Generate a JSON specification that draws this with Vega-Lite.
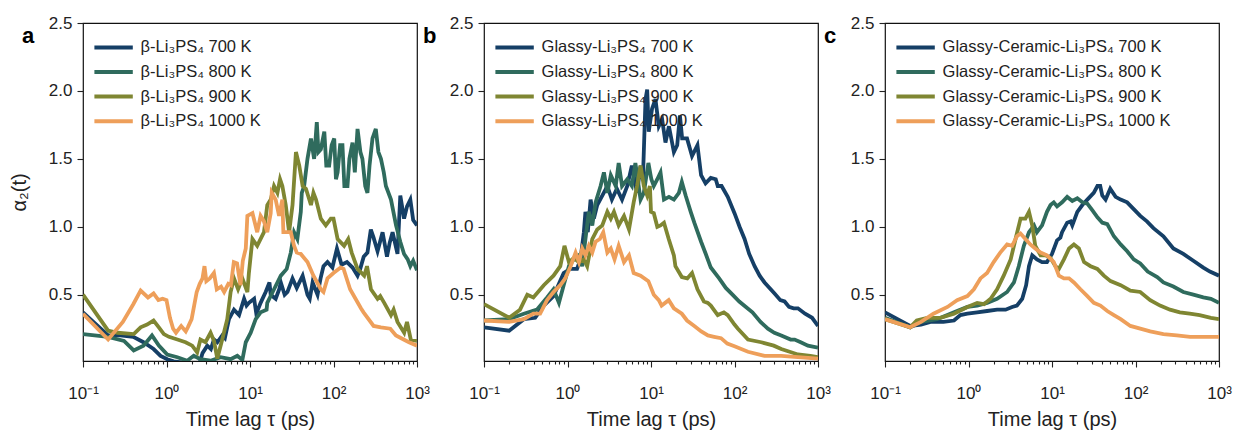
{
  "$schema": "https://vega.github.io/schema/vega-lite/v6.json",
  "padding": {"left": 8, "top": 13, "right": 4, "bottom": 2},
  "background": "white",
  "config": {
    "font": "Liberation Sans",
    "view": {"stroke": "#111", "strokeWidth": 1.2},
    "axis": {"labelColor": "#222", "titleColor": "#222", "tickColor": "#222", "domain": false, "grid": false, "labelFontSize": 17, "titleFontSize": 20, "titleFontWeight": "normal", "tickWidth": 1.1},
    "legend": {"orient": "none", "padding": 0, "symbolType": "M-1.6,0H1.6", "symbolStrokeWidth": 4, "symbolSize": 576, "labelFontSize": 16.5, "labelColor": "#222", "labelOffset": 13, "labelLimit": 500, "rowPadding": 1.6, "title": null},
    "title": {"anchor": "start", "frame": "group", "fontSize": 22, "fontWeight": "bold", "color": "#000", "offset": 0, "baseline": "alphabetic", "dx": -61, "dy": 38}
  },
  "datasets": {
    "a": [
      {"T":"700 K","t":0.1,"v":0.37},{"T":"700 K","t":0.2,"v":0.2},{"T":"700 K","t":0.28,"v":0.2},{"T":"700 K","t":0.4,"v":0.19},{"T":"700 K","t":0.53,"v":0.15},{"T":"700 K","t":0.7,"v":0.1},{"T":"700 K","t":0.85,"v":0.05},{"T":"700 K","t":1.02,"v":0.025},{"T":"700 K","t":1.22,"v":0.01},{"T":"700 K","t":1.6,"v":0.0},{"T":"700 K","t":2.2,"v":-0.01},{"T":"700 K","t":2.5,"v":0.0},{"T":"700 K","t":2.7,"v":0.07},{"T":"700 K","t":3.08,"v":0.125},{"T":"700 K","t":3.4,"v":0.1},{"T":"700 K","t":3.7,"v":0.17},{"T":"700 K","t":4.06,"v":0.15},{"T":"700 K","t":4.65,"v":0.2},{"T":"700 K","t":5.0,"v":0.18},{"T":"700 K","t":5.6,"v":0.32},{"T":"700 K","t":6.43,"v":0.39},{"T":"700 K","t":7.4,"v":0.35},{"T":"700 K","t":8.5,"v":0.47},{"T":"700 K","t":9.1,"v":0.42},{"T":"700 K","t":9.7,"v":0.44},{"T":"700 K","t":11.2,"v":0.47},{"T":"700 K","t":11.9,"v":0.36},{"T":"700 K","t":13.4,"v":0.44},{"T":"700 K","t":15.4,"v":0.52},{"T":"700 K","t":17.1,"v":0.59},{"T":"700 K","t":17.7,"v":0.5},{"T":"700 K","t":20.3,"v":0.47},{"T":"700 K","t":22.4,"v":0.54},{"T":"700 K","t":23.4,"v":0.59},{"T":"700 K","t":26,"v":0.5},{"T":"700 K","t":28.1,"v":0.52},{"T":"700 K","t":32.3,"v":0.62},{"T":"700 K","t":36.3,"v":0.55},{"T":"700 K","t":42.7,"v":0.64},{"T":"700 K","t":48.8,"v":0.5},{"T":"700 K","t":52,"v":0.47},{"T":"700 K","t":56.2,"v":0.59},{"T":"700 K","t":64.4,"v":0.5},{"T":"700 K","t":70,"v":0.62},{"T":"700 K","t":75.9,"v":0.71},{"T":"700 K","t":84.7,"v":0.74},{"T":"700 K","t":97,"v":0.7},{"T":"700 K","t":110,"v":0.84},{"T":"700 K","t":125,"v":0.72},{"T":"700 K","t":145,"v":0.74},{"T":"700 K","t":169,"v":0.7},{"T":"700 K","t":194,"v":0.64},{"T":"700 K","t":209,"v":0.69},{"T":"700 K","t":230,"v":0.78},{"T":"700 K","t":255,"v":0.81},{"T":"700 K","t":280,"v":0.98},{"T":"700 K","t":302,"v":0.92},{"T":"700 K","t":337,"v":0.82},{"T":"700 K","t":387,"v":0.96},{"T":"700 K","t":437,"v":0.78},{"T":"700 K","t":470,"v":0.88},{"T":"700 K","t":510,"v":0.96},{"T":"700 K","t":584,"v":0.8},{"T":"700 K","t":631,"v":1.23},{"T":"700 K","t":700,"v":1.06},{"T":"700 K","t":760,"v":1.15},{"T":"700 K","t":832,"v":1.2},{"T":"700 K","t":900,"v":1.05},{"T":"700 K","t":1000,"v":1.01},
      {"T":"800 K","t":0.1,"v":0.21},{"T":"800 K","t":0.2,"v":0.19},{"T":"800 K","t":0.31,"v":0.16},{"T":"800 K","t":0.405,"v":0.09},{"T":"800 K","t":0.53,"v":0.125},{"T":"800 K","t":0.67,"v":0.2},{"T":"800 K","t":0.81,"v":0.125},{"T":"800 K","t":1.02,"v":0.06},{"T":"800 K","t":1.35,"v":0.04},{"T":"800 K","t":1.77,"v":0.014},{"T":"800 K","t":2.12,"v":0.05},{"T":"800 K","t":2.55,"v":0.025},{"T":"800 K","t":3.37,"v":0.014},{"T":"800 K","t":4.45,"v":0.04},{"T":"800 K","t":5.86,"v":0.025},{"T":"800 K","t":7.05,"v":0.05},{"T":"800 K","t":8.1,"v":0.02},{"T":"800 K","t":8.9,"v":0.15},{"T":"800 K","t":10.2,"v":0.22},{"T":"800 K","t":11.7,"v":0.32},{"T":"800 K","t":13.4,"v":0.37},{"T":"800 K","t":15.8,"v":0.39},{"T":"800 K","t":16.1,"v":0.44},{"T":"800 K","t":19.4,"v":0.54},{"T":"800 K","t":23.4,"v":0.64},{"T":"800 K","t":27.5,"v":0.69},{"T":"800 K","t":30.8,"v":0.81},{"T":"800 K","t":33.7,"v":0.96},{"T":"800 K","t":36.9,"v":0.91},{"T":"800 K","t":40.6,"v":1.11},{"T":"800 K","t":41.7,"v":1.25},{"T":"800 K","t":44.5,"v":1.3},{"T":"800 K","t":48.8,"v":1.5},{"T":"800 K","t":53.7,"v":1.65},{"T":"800 K","t":58.6,"v":1.5},{"T":"800 K","t":63.1,"v":1.77},{"T":"800 K","t":66,"v":1.55},{"T":"800 K","t":70.5,"v":1.57},{"T":"800 K","t":77.6,"v":1.7},{"T":"800 K","t":82,"v":1.45},{"T":"800 K","t":88.7,"v":1.45},{"T":"800 K","t":95,"v":1.6},{"T":"800 K","t":102,"v":1.65},{"T":"800 K","t":107,"v":1.35},{"T":"800 K","t":112,"v":1.4},{"T":"800 K","t":120,"v":1.6},{"T":"800 K","t":128,"v":1.6},{"T":"800 K","t":135,"v":1.3},{"T":"800 K","t":147,"v":1.3},{"T":"800 K","t":155,"v":1.5},{"T":"800 K","t":169,"v":1.62},{"T":"800 K","t":180,"v":1.4},{"T":"800 K","t":194,"v":1.72},{"T":"800 K","t":210,"v":1.55},{"T":"800 K","t":222,"v":1.5},{"T":"800 K","t":240,"v":1.3},{"T":"800 K","t":255,"v":1.25},{"T":"800 K","t":270,"v":1.45},{"T":"800 K","t":293,"v":1.65},{"T":"800 K","t":321,"v":1.72},{"T":"800 K","t":345,"v":1.55},{"T":"800 K","t":370,"v":1.5},{"T":"800 K","t":400,"v":1.4},{"T":"800 K","t":424,"v":1.3},{"T":"800 K","t":488,"v":1.2},{"T":"800 K","t":561,"v":1.01},{"T":"800 K","t":631,"v":0.89},{"T":"800 K","t":700,"v":0.8},{"T":"800 K","t":774,"v":0.76},{"T":"800 K","t":832,"v":0.71},{"T":"800 K","t":900,"v":0.75},{"T":"800 K","t":1000,"v":0.68},
      {"T":"900 K","t":0.1,"v":0.5},{"T":"900 K","t":0.2,"v":0.235},{"T":"900 K","t":0.26,"v":0.22},{"T":"900 K","t":0.405,"v":0.21},{"T":"900 K","t":0.49,"v":0.26},{"T":"900 K","t":0.585,"v":0.28},{"T":"900 K","t":0.7,"v":0.31},{"T":"900 K","t":0.81,"v":0.26},{"T":"900 K","t":0.93,"v":0.21},{"T":"900 K","t":1.07,"v":0.19},{"T":"900 K","t":1.35,"v":0.17},{"T":"900 K","t":1.69,"v":0.15},{"T":"900 K","t":2.03,"v":0.125},{"T":"900 K","t":2.33,"v":0.075},{"T":"900 K","t":2.55,"v":0.17},{"T":"900 K","t":2.93,"v":0.15},{"T":"900 K","t":3.37,"v":0.22},{"T":"900 K","t":3.7,"v":0.16},{"T":"900 K","t":4.06,"v":0.03},{"T":"900 K","t":4.65,"v":0.17},{"T":"900 K","t":5.34,"v":0.32},{"T":"900 K","t":5.86,"v":0.52},{"T":"900 K","t":6.43,"v":0.62},{"T":"900 K","t":7.2,"v":0.54},{"T":"900 K","t":8.1,"v":0.62},{"T":"900 K","t":9.3,"v":0.52},{"T":"900 K","t":9.7,"v":0.66},{"T":"900 K","t":10.7,"v":0.91},{"T":"900 K","t":12.2,"v":0.86},{"T":"900 K","t":14.7,"v":0.96},{"T":"900 K","t":16.1,"v":1.16},{"T":"900 K","t":17.7,"v":1.2},{"T":"900 K","t":19.4,"v":1.3},{"T":"900 K","t":21.3,"v":1.25},{"T":"900 K","t":22.9,"v":1.35},{"T":"900 K","t":24.4,"v":1.3},{"T":"900 K","t":26.8,"v":1.16},{"T":"900 K","t":29.4,"v":0.96},{"T":"900 K","t":32.3,"v":1.16},{"T":"900 K","t":35.5,"v":1.55},{"T":"900 K","t":38.9,"v":1.45},{"T":"900 K","t":42.7,"v":1.3},{"T":"900 K","t":46.8,"v":1.28},{"T":"900 K","t":53.7,"v":1.16},{"T":"900 K","t":57.5,"v":1.25},{"T":"900 K","t":61.7,"v":1.2},{"T":"900 K","t":70.5,"v":1.06},{"T":"900 K","t":80.9,"v":1.01},{"T":"900 K","t":92.9,"v":1.06},{"T":"900 K","t":100,"v":1.06},{"T":"900 K","t":112,"v":0.91},{"T":"900 K","t":134,"v":0.86},{"T":"900 K","t":150,"v":0.91},{"T":"900 K","t":165,"v":0.81},{"T":"900 K","t":194,"v":0.69},{"T":"900 K","t":233,"v":0.64},{"T":"900 K","t":252,"v":0.71},{"T":"900 K","t":281,"v":0.54},{"T":"900 K","t":337,"v":0.47},{"T":"900 K","t":363,"v":0.49},{"T":"900 K","t":405,"v":0.44},{"T":"900 K","t":488,"v":0.35},{"T":"900 K","t":525,"v":0.39},{"T":"900 K","t":584,"v":0.3},{"T":"900 K","t":702,"v":0.22},{"T":"900 K","t":759,"v":0.3},{"T":"900 K","t":843,"v":0.17},{"T":"900 K","t":1000,"v":0.16},
      {"T":"1000 K","t":0.1,"v":0.36},{"T":"1000 K","t":0.2,"v":0.17},{"T":"1000 K","t":0.3,"v":0.3},{"T":"1000 K","t":0.4,"v":0.43},{"T":"1000 K","t":0.49,"v":0.53},{"T":"1000 K","t":0.6,"v":0.48},{"T":"1000 K","t":0.7,"v":0.51},{"T":"1000 K","t":0.8,"v":0.46},{"T":"1000 K","t":0.9,"v":0.47},{"T":"1000 K","t":1.0,"v":0.46},{"T":"1000 K","t":1.1,"v":0.33},{"T":"1000 K","t":1.2,"v":0.25},{"T":"1000 K","t":1.3,"v":0.22},{"T":"1000 K","t":1.5,"v":0.27},{"T":"1000 K","t":1.7,"v":0.23},{"T":"1000 K","t":1.8,"v":0.26},{"T":"1000 K","t":2.0,"v":0.32},{"T":"1000 K","t":2.3,"v":0.52},{"T":"1000 K","t":2.5,"v":0.58},{"T":"1000 K","t":2.7,"v":0.62},{"T":"1000 K","t":2.85,"v":0.71},{"T":"1000 K","t":3.0,"v":0.6},{"T":"1000 K","t":3.3,"v":0.62},{"T":"1000 K","t":3.7,"v":0.66},{"T":"1000 K","t":4.0,"v":0.54},{"T":"1000 K","t":4.5,"v":0.56},{"T":"1000 K","t":4.9,"v":0.52},{"T":"1000 K","t":5.5,"v":0.58},{"T":"1000 K","t":5.9,"v":0.57},{"T":"1000 K","t":6.4,"v":0.74},{"T":"1000 K","t":7.0,"v":0.73},{"T":"1000 K","t":7.7,"v":0.57},{"T":"1000 K","t":8.2,"v":0.75},{"T":"1000 K","t":8.9,"v":0.84},{"T":"1000 K","t":9.3,"v":1.08},{"T":"1000 K","t":10.7,"v":1.1},{"T":"1000 K","t":12.2,"v":0.96},{"T":"1000 K","t":13.4,"v":1.08},{"T":"1000 K","t":14.7,"v":1.04},{"T":"1000 K","t":16.1,"v":0.96},{"T":"1000 K","t":17.7,"v":1.1},{"T":"1000 K","t":18.2,"v":1.25},{"T":"1000 K","t":20.3,"v":1.2},{"T":"1000 K","t":22.3,"v":1.08},{"T":"1000 K","t":24.4,"v":1.2},{"T":"1000 K","t":25.1,"v":0.96},{"T":"1000 K","t":30.8,"v":0.96},{"T":"1000 K","t":33.7,"v":0.86},{"T":"1000 K","t":36.3,"v":0.81},{"T":"1000 K","t":40.6,"v":0.8},{"T":"1000 K","t":48.8,"v":0.74},{"T":"1000 K","t":57.5,"v":0.64},{"T":"1000 K","t":70.5,"v":0.54},{"T":"1000 K","t":75.9,"v":0.52},{"T":"1000 K","t":84.7,"v":0.62},{"T":"1000 K","t":100,"v":0.66},{"T":"1000 K","t":122,"v":0.7},{"T":"1000 K","t":132,"v":0.69},{"T":"1000 K","t":158,"v":0.54},{"T":"1000 K","t":213,"v":0.4},{"T":"1000 K","t":229,"v":0.37},{"T":"1000 K","t":302,"v":0.27},{"T":"1000 K","t":370,"v":0.26},{"T":"1000 K","t":479,"v":0.25},{"T":"1000 K","t":560,"v":0.2},{"T":"1000 K","t":692,"v":0.17},{"T":"1000 K","t":800,"v":0.15},{"T":"1000 K","t":1000,"v":0.125}
    ],
    "b": [
      {"T":"700 K","t":0.1,"v":0.26},{"T":"700 K","t":0.2,"v":0.235},{"T":"700 K","t":0.3,"v":0.32},{"T":"700 K","t":0.41,"v":0.33},{"T":"700 K","t":0.52,"v":0.42},{"T":"700 K","t":0.68,"v":0.49},{"T":"700 K","t":0.9,"v":0.66},{"T":"700 K","t":1.08,"v":0.69},{"T":"700 K","t":1.3,"v":0.69},{"T":"700 K","t":1.43,"v":0.76},{"T":"700 K","t":1.57,"v":0.96},{"T":"700 K","t":1.64,"v":1.11},{"T":"700 K","t":1.75,"v":0.96},{"T":"700 K","t":1.89,"v":1.2},{"T":"700 K","t":2.07,"v":1.06},{"T":"700 K","t":2.27,"v":1.16},{"T":"700 K","t":2.61,"v":1.23},{"T":"700 K","t":3.0,"v":1.3},{"T":"700 K","t":3.4,"v":1.2},{"T":"700 K","t":3.9,"v":1.28},{"T":"700 K","t":4.5,"v":1.2},{"T":"700 K","t":5.2,"v":1.3},{"T":"700 K","t":5.9,"v":1.45},{"T":"700 K","t":6.8,"v":1.25},{"T":"700 K","t":7.5,"v":1.45},{"T":"700 K","t":8.0,"v":1.35},{"T":"700 K","t":8.6,"v":1.94},{"T":"700 K","t":9.0,"v":2.01},{"T":"700 K","t":9.4,"v":1.7},{"T":"700 K","t":10.3,"v":1.87},{"T":"700 K","t":11.3,"v":1.94},{"T":"700 K","t":12.4,"v":1.74},{"T":"700 K","t":13.6,"v":1.79},{"T":"700 K","t":14.9,"v":1.62},{"T":"700 K","t":16.4,"v":1.74},{"T":"700 K","t":18.8,"v":1.55},{"T":"700 K","t":20.6,"v":1.6},{"T":"700 K","t":22.2,"v":1.82},{"T":"700 K","t":23.6,"v":1.65},{"T":"700 K","t":27,"v":1.65},{"T":"700 K","t":31,"v":1.52},{"T":"700 K","t":36,"v":1.6},{"T":"700 K","t":39.8,"v":1.38},{"T":"700 K","t":45,"v":1.32},{"T":"700 K","t":52,"v":1.36},{"T":"700 K","t":59.6,"v":1.35},{"T":"700 K","t":63,"v":1.3},{"T":"700 K","t":70,"v":1.3},{"T":"700 K","t":83,"v":1.22},{"T":"700 K","t":100,"v":1.1},{"T":"700 K","t":115,"v":1.0},{"T":"700 K","t":132,"v":0.91},{"T":"700 K","t":150,"v":0.8},{"T":"700 K","t":174,"v":0.71},{"T":"700 K","t":200,"v":0.64},{"T":"700 K","t":229,"v":0.59},{"T":"700 K","t":300,"v":0.51},{"T":"700 K","t":354,"v":0.46},{"T":"700 K","t":398,"v":0.45},{"T":"700 K","t":450,"v":0.41},{"T":"700 K","t":510,"v":0.4},{"T":"700 K","t":575,"v":0.4},{"T":"700 K","t":700,"v":0.36},{"T":"700 K","t":850,"v":0.33},{"T":"700 K","t":1000,"v":0.27},
      {"T":"800 K","t":0.1,"v":0.31},{"T":"800 K","t":0.2,"v":0.32},{"T":"800 K","t":0.3,"v":0.36},{"T":"800 K","t":0.43,"v":0.39},{"T":"800 K","t":0.57,"v":0.48},{"T":"800 K","t":0.68,"v":0.54},{"T":"800 K","t":0.79,"v":0.44},{"T":"800 K","t":0.9,"v":0.57},{"T":"800 K","t":1.04,"v":0.71},{"T":"800 K","t":1.19,"v":0.76},{"T":"800 K","t":1.37,"v":0.79},{"T":"800 K","t":1.5,"v":0.71},{"T":"800 K","t":1.64,"v":0.91},{"T":"800 K","t":1.8,"v":1.11},{"T":"800 K","t":1.98,"v":1.01},{"T":"800 K","t":2.17,"v":1.18},{"T":"800 K","t":2.49,"v":1.3},{"T":"800 K","t":2.73,"v":1.4},{"T":"800 K","t":3.0,"v":1.25},{"T":"800 K","t":3.3,"v":1.38},{"T":"800 K","t":3.78,"v":1.3},{"T":"800 K","t":4.1,"v":1.47},{"T":"800 K","t":4.5,"v":1.3},{"T":"800 K","t":5.2,"v":1.35},{"T":"800 K","t":5.9,"v":1.3},{"T":"800 K","t":6.5,"v":1.47},{"T":"800 K","t":7.5,"v":1.2},{"T":"800 K","t":8.2,"v":1.25},{"T":"800 K","t":9.3,"v":1.47},{"T":"800 K","t":10.1,"v":1.35},{"T":"800 K","t":10.8,"v":1.3},{"T":"800 K","t":11.9,"v":1.35},{"T":"800 K","t":13.0,"v":1.4},{"T":"800 K","t":14.3,"v":1.2},{"T":"800 K","t":16.4,"v":1.22},{"T":"800 K","t":18.8,"v":1.2},{"T":"800 K","t":21.6,"v":1.25},{"T":"800 K","t":23.4,"v":1.33},{"T":"800 K","t":26,"v":1.23},{"T":"800 K","t":29.9,"v":1.11},{"T":"800 K","t":33,"v":1.03},{"T":"800 K","t":39.8,"v":0.89},{"T":"800 K","t":45.3,"v":0.8},{"T":"800 K","t":52,"v":0.7},{"T":"800 K","t":65.5,"v":0.62},{"T":"800 K","t":78.7,"v":0.55},{"T":"800 K","t":94.6,"v":0.5},{"T":"800 K","t":114,"v":0.45},{"T":"800 K","t":137,"v":0.41},{"T":"800 K","t":164,"v":0.37},{"T":"800 K","t":205,"v":0.3},{"T":"800 K","t":251,"v":0.25},{"T":"800 K","t":300,"v":0.22},{"T":"800 K","t":363,"v":0.2},{"T":"800 K","t":470,"v":0.17},{"T":"800 K","t":525,"v":0.17},{"T":"800 K","t":621,"v":0.15},{"T":"800 K","t":758,"v":0.125},{"T":"800 K","t":1000,"v":0.11},
      {"T":"900 K","t":0.1,"v":0.43},{"T":"900 K","t":0.2,"v":0.33},{"T":"900 K","t":0.27,"v":0.39},{"T":"900 K","t":0.33,"v":0.5},{"T":"900 K","t":0.39,"v":0.48},{"T":"900 K","t":0.52,"v":0.57},{"T":"900 K","t":0.68,"v":0.64},{"T":"900 K","t":0.82,"v":0.71},{"T":"900 K","t":0.92,"v":0.86},{"T":"900 K","t":1.04,"v":0.74},{"T":"900 K","t":1.19,"v":0.77},{"T":"900 K","t":1.37,"v":0.74},{"T":"900 K","t":1.57,"v":0.76},{"T":"900 K","t":1.72,"v":0.71},{"T":"900 K","t":1.98,"v":0.91},{"T":"900 K","t":2.27,"v":0.98},{"T":"900 K","t":2.61,"v":1.01},{"T":"900 K","t":3.0,"v":1.11},{"T":"900 K","t":3.3,"v":1.06},{"T":"900 K","t":3.6,"v":1.11},{"T":"900 K","t":4.1,"v":1.01},{"T":"900 K","t":4.75,"v":1.08},{"T":"900 K","t":5.45,"v":0.98},{"T":"900 K","t":6.2,"v":1.18},{"T":"900 K","t":6.8,"v":1.3},{"T":"900 K","t":7.5,"v":1.45},{"T":"900 K","t":8.2,"v":1.3},{"T":"900 K","t":9.0,"v":1.23},{"T":"900 K","t":9.7,"v":1.3},{"T":"900 K","t":10.0,"v":1.11},{"T":"900 K","t":10.8,"v":1.1},{"T":"900 K","t":11.9,"v":1.0},{"T":"900 K","t":13,"v":1.01},{"T":"900 K","t":14.3,"v":1.03},{"T":"900 K","t":16.3,"v":0.91},{"T":"900 K","t":18.8,"v":0.79},{"T":"900 K","t":19.6,"v":0.71},{"T":"900 K","t":23.4,"v":0.63},{"T":"900 K","t":27.2,"v":0.62},{"T":"900 K","t":31,"v":0.66},{"T":"900 K","t":36,"v":0.54},{"T":"900 K","t":43,"v":0.45},{"T":"900 K","t":47.9,"v":0.44},{"T":"900 K","t":52,"v":0.42},{"T":"900 K","t":63,"v":0.35},{"T":"900 K","t":74.6,"v":0.37},{"T":"900 K","t":83,"v":0.35},{"T":"900 K","t":100,"v":0.28},{"T":"900 K","t":110,"v":0.25},{"T":"900 K","t":145,"v":0.17},{"T":"900 K","t":209,"v":0.15},{"T":"900 K","t":295,"v":0.125},{"T":"900 K","t":363,"v":0.1},{"T":"900 K","t":575,"v":0.06},{"T":"900 K","t":811,"v":0.05},{"T":"900 K","t":1000,"v":0.04},
      {"T":"1000 K","t":0.1,"v":0.31},{"T":"1000 K","t":0.2,"v":0.3},{"T":"1000 K","t":0.3,"v":0.32},{"T":"1000 K","t":0.39,"v":0.36},{"T":"1000 K","t":0.47,"v":0.36},{"T":"1000 K","t":0.57,"v":0.46},{"T":"1000 K","t":0.68,"v":0.52},{"T":"1000 K","t":0.82,"v":0.57},{"T":"1000 K","t":0.94,"v":0.62},{"T":"1000 K","t":1.09,"v":0.71},{"T":"1000 K","t":1.25,"v":0.81},{"T":"1000 K","t":1.37,"v":0.74},{"T":"1000 K","t":1.5,"v":0.84},{"T":"1000 K","t":1.64,"v":0.79},{"T":"1000 K","t":1.8,"v":0.86},{"T":"1000 K","t":1.98,"v":0.81},{"T":"1000 K","t":2.17,"v":0.89},{"T":"1000 K","t":2.44,"v":0.91},{"T":"1000 K","t":2.68,"v":0.96},{"T":"1000 K","t":3.0,"v":0.81},{"T":"1000 K","t":3.3,"v":0.84},{"T":"1000 K","t":3.66,"v":0.76},{"T":"1000 K","t":4.1,"v":0.86},{"T":"1000 K","t":4.75,"v":0.74},{"T":"1000 K","t":5.45,"v":0.79},{"T":"1000 K","t":6.2,"v":0.66},{"T":"1000 K","t":7.5,"v":0.64},{"T":"1000 K","t":9.3,"v":0.6},{"T":"1000 K","t":10.8,"v":0.5},{"T":"1000 K","t":12.4,"v":0.46},{"T":"1000 K","t":13.4,"v":0.42},{"T":"1000 K","t":16.3,"v":0.46},{"T":"1000 K","t":18.8,"v":0.4},{"T":"1000 K","t":23.4,"v":0.36},{"T":"1000 K","t":27,"v":0.31},{"T":"1000 K","t":33,"v":0.27},{"T":"1000 K","t":40,"v":0.23},{"T":"1000 K","t":48,"v":0.2},{"T":"1000 K","t":57,"v":0.19},{"T":"1000 K","t":69,"v":0.18},{"T":"1000 K","t":82,"v":0.14},{"T":"1000 K","t":100,"v":0.12},{"T":"1000 K","t":145,"v":0.08},{"T":"1000 K","t":229,"v":0.05},{"T":"1000 K","t":363,"v":0.05},{"T":"1000 K","t":575,"v":0.04},{"T":"1000 K","t":1000,"v":0.03}
    ],
    "c": [
      {"T":"700 K","t":0.1,"v":0.37},{"T":"700 K","t":0.2,"v":0.27},{"T":"700 K","t":0.27,"v":0.28},{"T":"700 K","t":0.35,"v":0.3},{"T":"700 K","t":0.5,"v":0.3},{"T":"700 K","t":0.67,"v":0.31},{"T":"700 K","t":0.8,"v":0.35},{"T":"700 K","t":0.97,"v":0.36},{"T":"700 K","t":1.27,"v":0.37},{"T":"700 K","t":1.67,"v":0.38},{"T":"700 K","t":2.2,"v":0.39},{"T":"700 K","t":2.78,"v":0.39},{"T":"700 K","t":3.33,"v":0.41},{"T":"700 K","t":3.8,"v":0.42},{"T":"700 K","t":4.4,"v":0.47},{"T":"700 K","t":4.9,"v":0.57},{"T":"700 K","t":5.3,"v":0.71},{"T":"700 K","t":5.8,"v":0.79},{"T":"700 K","t":6.6,"v":0.76},{"T":"700 K","t":7.6,"v":0.74},{"T":"700 K","t":8.7,"v":0.74},{"T":"700 K","t":10,"v":0.8},{"T":"700 K","t":11.5,"v":0.9},{"T":"700 K","t":12.6,"v":0.92},{"T":"700 K","t":13.2,"v":0.96},{"T":"700 K","t":15.2,"v":1.03},{"T":"700 K","t":16.7,"v":1.04},{"T":"700 K","t":17.5,"v":1.01},{"T":"700 K","t":20.1,"v":1.11},{"T":"700 K","t":23.1,"v":1.16},{"T":"700 K","t":26.5,"v":1.2},{"T":"700 K","t":31.6,"v":1.25},{"T":"700 K","t":35,"v":1.3},{"T":"700 K","t":37.8,"v":1.3},{"T":"700 K","t":40,"v":1.23},{"T":"700 K","t":43.8,"v":1.2},{"T":"700 K","t":49.8,"v":1.28},{"T":"700 K","t":57.8,"v":1.22},{"T":"700 K","t":66.4,"v":1.2},{"T":"700 K","t":79.5,"v":1.18},{"T":"700 K","t":95.2,"v":1.13},{"T":"700 K","t":114,"v":1.08},{"T":"700 K","t":137,"v":1.04},{"T":"700 K","t":164,"v":0.99},{"T":"700 K","t":216,"v":0.93},{"T":"700 K","t":284,"v":0.84},{"T":"700 K","t":374,"v":0.8},{"T":"700 K","t":493,"v":0.75},{"T":"700 K","t":649,"v":0.7},{"T":"700 K","t":778,"v":0.67},{"T":"700 K","t":1000,"v":0.64},
      {"T":"800 K","t":0.1,"v":0.33},{"T":"800 K","t":0.2,"v":0.26},{"T":"800 K","t":0.27,"v":0.3},{"T":"800 K","t":0.42,"v":0.32},{"T":"800 K","t":0.67,"v":0.37},{"T":"800 K","t":0.97,"v":0.41},{"T":"800 K","t":1.27,"v":0.42},{"T":"800 K","t":1.67,"v":0.44},{"T":"800 K","t":2.2,"v":0.47},{"T":"800 K","t":2.9,"v":0.52},{"T":"800 K","t":3.5,"v":0.59},{"T":"800 K","t":4.0,"v":0.71},{"T":"800 K","t":4.6,"v":0.86},{"T":"800 K","t":5.3,"v":0.96},{"T":"800 K","t":6.1,"v":1.01},{"T":"800 K","t":6.6,"v":0.96},{"T":"800 K","t":7.6,"v":1.01},{"T":"800 K","t":8.7,"v":1.11},{"T":"800 K","t":9.6,"v":1.16},{"T":"800 K","t":10.5,"v":1.18},{"T":"800 K","t":11.5,"v":1.15},{"T":"800 K","t":13.2,"v":1.18},{"T":"800 K","t":15.2,"v":1.22},{"T":"800 K","t":17.5,"v":1.19},{"T":"800 K","t":20.1,"v":1.21},{"T":"800 K","t":23.1,"v":1.18},{"T":"800 K","t":26.5,"v":1.17},{"T":"800 K","t":30.5,"v":1.12},{"T":"800 K","t":35,"v":1.07},{"T":"800 K","t":40.1,"v":1.03},{"T":"800 K","t":45.9,"v":1.02},{"T":"800 K","t":55.1,"v":0.93},{"T":"800 K","t":66.4,"v":0.87},{"T":"800 K","t":79.5,"v":0.82},{"T":"800 K","t":95.2,"v":0.76},{"T":"800 K","t":114,"v":0.73},{"T":"800 K","t":140,"v":0.67},{"T":"800 K","t":182,"v":0.63},{"T":"800 K","t":216,"v":0.59},{"T":"800 K","t":284,"v":0.56},{"T":"800 K","t":374,"v":0.52},{"T":"800 K","t":493,"v":0.5},{"T":"800 K","t":649,"v":0.48},{"T":"800 K","t":800,"v":0.47},{"T":"800 K","t":1000,"v":0.44},
      {"T":"900 K","t":0.1,"v":0.32},{"T":"900 K","t":0.2,"v":0.26},{"T":"900 K","t":0.24,"v":0.31},{"T":"900 K","t":0.32,"v":0.33},{"T":"900 K","t":0.46,"v":0.33},{"T":"900 K","t":0.67,"v":0.36},{"T":"900 K","t":0.97,"v":0.41},{"T":"900 K","t":1.27,"v":0.44},{"T":"900 K","t":1.53,"v":0.43},{"T":"900 K","t":1.84,"v":0.47},{"T":"900 K","t":2.2,"v":0.54},{"T":"900 K","t":2.64,"v":0.64},{"T":"900 K","t":3.2,"v":0.76},{"T":"900 K","t":3.66,"v":0.91},{"T":"900 K","t":4.2,"v":1.06},{"T":"900 K","t":4.8,"v":1.06},{"T":"900 K","t":5.3,"v":1.11},{"T":"900 K","t":5.8,"v":1.01},{"T":"900 K","t":6.3,"v":0.86},{"T":"900 K","t":7.3,"v":0.79},{"T":"900 K","t":8.4,"v":0.79},{"T":"900 K","t":9.6,"v":0.77},{"T":"900 K","t":11.0,"v":0.71},{"T":"900 K","t":12.1,"v":0.69},{"T":"900 K","t":13.9,"v":0.76},{"T":"900 K","t":16.0,"v":0.84},{"T":"900 K","t":18.3,"v":0.87},{"T":"900 K","t":21,"v":0.84},{"T":"900 K","t":24.2,"v":0.74},{"T":"900 K","t":29,"v":0.71},{"T":"900 K","t":34.9,"v":0.69},{"T":"900 K","t":41.8,"v":0.64},{"T":"900 K","t":50.3,"v":0.6},{"T":"900 K","t":66.4,"v":0.57},{"T":"900 K","t":86.9,"v":0.53},{"T":"900 K","t":114,"v":0.52},{"T":"900 K","t":150,"v":0.46},{"T":"900 K","t":197,"v":0.42},{"T":"900 K","t":259,"v":0.39},{"T":"900 K","t":340,"v":0.37},{"T":"900 K","t":446,"v":0.36},{"T":"900 K","t":586,"v":0.35},{"T":"900 K","t":800,"v":0.33},{"T":"900 K","t":1000,"v":0.32},
      {"T":"1000 K","t":0.1,"v":0.32},{"T":"1000 K","t":0.2,"v":0.26},{"T":"1000 K","t":0.27,"v":0.3},{"T":"1000 K","t":0.38,"v":0.36},{"T":"1000 K","t":0.56,"v":0.41},{"T":"1000 K","t":0.73,"v":0.46},{"T":"1000 K","t":0.97,"v":0.49},{"T":"1000 K","t":1.16,"v":0.54},{"T":"1000 K","t":1.39,"v":0.62},{"T":"1000 K","t":1.67,"v":0.66},{"T":"1000 K","t":2.0,"v":0.74},{"T":"1000 K","t":2.4,"v":0.81},{"T":"1000 K","t":2.9,"v":0.87},{"T":"1000 K","t":3.33,"v":0.86},{"T":"1000 K","t":3.8,"v":0.93},{"T":"1000 K","t":4.2,"v":0.95},{"T":"1000 K","t":4.8,"v":0.91},{"T":"1000 K","t":5.5,"v":0.87},{"T":"1000 K","t":6.3,"v":0.84},{"T":"1000 K","t":7.3,"v":0.81},{"T":"1000 K","t":8.7,"v":0.79},{"T":"1000 K","t":10.5,"v":0.74},{"T":"1000 K","t":12.1,"v":0.64},{"T":"1000 K","t":13.9,"v":0.62},{"T":"1000 K","t":16.0,"v":0.62},{"T":"1000 K","t":18.3,"v":0.59},{"T":"1000 K","t":21.9,"v":0.54},{"T":"1000 K","t":26.5,"v":0.49},{"T":"1000 K","t":31.7,"v":0.44},{"T":"1000 K","t":38,"v":0.42},{"T":"1000 K","t":45.9,"v":0.38},{"T":"1000 K","t":55.1,"v":0.35},{"T":"1000 K","t":66.4,"v":0.32},{"T":"1000 K","t":86.9,"v":0.27},{"T":"1000 K","t":114,"v":0.25},{"T":"1000 K","t":150,"v":0.23},{"T":"1000 K","t":216,"v":0.21},{"T":"1000 K","t":312,"v":0.2},{"T":"1000 K","t":450,"v":0.19},{"T":"1000 K","t":649,"v":0.19},{"T":"1000 K","t":1000,"v":0.19}
    ]
  },
  "spacing": 67,
  "bounds": "flush",
  "resolve": {"scale": {"color": "independent"}, "legend": {"color": "independent"}},
  "hconcat": [
    {
      "width": 334, "height": 338,
      "title": {"text": "a"},
      "data": {"name": "a"},
      "mark": {"type": "line", "strokeWidth": 3.8, "clip": true},
      "encoding": {
        "x": {"field": "t", "type": "quantitative", "scale": {"type": "log", "domain": [0.1, 1000]},
          "axis": {"title": "Time lag τ (ps)", "values": [0.1,0.2,0.3,0.4,0.5,0.6,0.7,0.8,0.9,1,2,3,4,5,6,7,8,9,10,20,30,40,50,60,70,80,90,100,200,300,400,500,600,700,800,900,1000], "labelExpr": "datum.value == 0.1 ? '10⁻¹' : datum.value == 1 ? '10⁰' : datum.value == 10 ? '10¹' : datum.value == 100 ? '10²' : datum.value == 1000 ? '10³' : ''", "labelOverlap": false, "labelFlush": false, "tickSize": {"condition": {"test": "datum.value == 0.1 || datum.value == 1 || datum.value == 10 || datum.value == 100 || datum.value == 1000", "value": 6}, "value": 3}, "labelPadding": 18, "titlePadding": 8}},
        "y": {"field": "v", "type": "quantitative", "scale": {"domain": [0.012, 2.5], "nice": false, "zero": false},
          "axis": {"title": "α₂(t)", "values": [0.5, 1, 1.5, 2, 2.5], "format": ".1f", "tickSize": 6, "labelPadding": 5, "titlePadding": 19}},
        "color": {"field": "T", "type": "nominal", "sort": ["700 K", "800 K", "900 K", "1000 K"],
          "scale": {"domain": ["700 K", "800 K", "900 K", "1000 K"], "range": ["#153f66", "#2f6b5d", "#7f8632", "#ee9f5a"]},
          "legend": {"labelExpr": "'β-Li₃PS₄ ' + datum.label", "orient": "none", "legendX": 16.6, "legendY": 10.4}}
      }
    },
    {
      "width": 334, "height": 338,
      "title": {"text": "b"},
      "data": {"name": "b"},
      "mark": {"type": "line", "strokeWidth": 3.8, "clip": true},
      "encoding": {
        "x": {"field": "t", "type": "quantitative", "scale": {"type": "log", "domain": [0.1, 1000]},
          "axis": {"title": "Time lag τ (ps)", "values": [0.1,0.2,0.3,0.4,0.5,0.6,0.7,0.8,0.9,1,2,3,4,5,6,7,8,9,10,20,30,40,50,60,70,80,90,100,200,300,400,500,600,700,800,900,1000], "labelExpr": "datum.value == 0.1 ? '10⁻¹' : datum.value == 1 ? '10⁰' : datum.value == 10 ? '10¹' : datum.value == 100 ? '10²' : datum.value == 1000 ? '10³' : ''", "labelOverlap": false, "labelFlush": false, "tickSize": {"condition": {"test": "datum.value == 0.1 || datum.value == 1 || datum.value == 10 || datum.value == 100 || datum.value == 1000", "value": 6}, "value": 3}, "labelPadding": 18, "titlePadding": 8}},
        "y": {"field": "v", "type": "quantitative", "scale": {"domain": [0.012, 2.5], "nice": false, "zero": false},
          "axis": {"title": null, "values": [0.5, 1, 1.5, 2, 2.5], "format": ".1f", "tickSize": 6, "labelPadding": 5}},
        "color": {"field": "T", "type": "nominal", "sort": ["700 K", "800 K", "900 K", "1000 K"],
          "scale": {"domain": ["700 K", "800 K", "900 K", "1000 K"], "range": ["#153f66", "#2f6b5d", "#7f8632", "#ee9f5a"]},
          "legend": {"labelExpr": "'Glassy-Li₃PS₄ ' + datum.label", "orient": "none", "legendX": 16.6, "legendY": 10.4}}
      }
    },
    {
      "width": 334, "height": 338,
      "title": {"text": "c"},
      "data": {"name": "c"},
      "mark": {"type": "line", "strokeWidth": 3.8, "clip": true},
      "encoding": {
        "x": {"field": "t", "type": "quantitative", "scale": {"type": "log", "domain": [0.1, 1000]},
          "axis": {"title": "Time lag τ (ps)", "values": [0.1,0.2,0.3,0.4,0.5,0.6,0.7,0.8,0.9,1,2,3,4,5,6,7,8,9,10,20,30,40,50,60,70,80,90,100,200,300,400,500,600,700,800,900,1000], "labelExpr": "datum.value == 0.1 ? '10⁻¹' : datum.value == 1 ? '10⁰' : datum.value == 10 ? '10¹' : datum.value == 100 ? '10²' : datum.value == 1000 ? '10³' : ''", "labelOverlap": false, "labelFlush": false, "tickSize": {"condition": {"test": "datum.value == 0.1 || datum.value == 1 || datum.value == 10 || datum.value == 100 || datum.value == 1000", "value": 6}, "value": 3}, "labelPadding": 18, "titlePadding": 8}},
        "y": {"field": "v", "type": "quantitative", "scale": {"domain": [0.012, 2.5], "nice": false, "zero": false},
          "axis": {"title": null, "values": [0.5, 1, 1.5, 2, 2.5], "format": ".1f", "tickSize": 6, "labelPadding": 5}},
        "color": {"field": "T", "type": "nominal", "sort": ["700 K", "800 K", "900 K", "1000 K"],
          "scale": {"domain": ["700 K", "800 K", "900 K", "1000 K"], "range": ["#153f66", "#2f6b5d", "#7f8632", "#ee9f5a"]},
          "legend": {"labelExpr": "'Glassy-Ceramic-Li₃PS₄ ' + datum.label", "orient": "none", "legendX": 16.6, "legendY": 10.4}}
      }
    }
  ]
}
